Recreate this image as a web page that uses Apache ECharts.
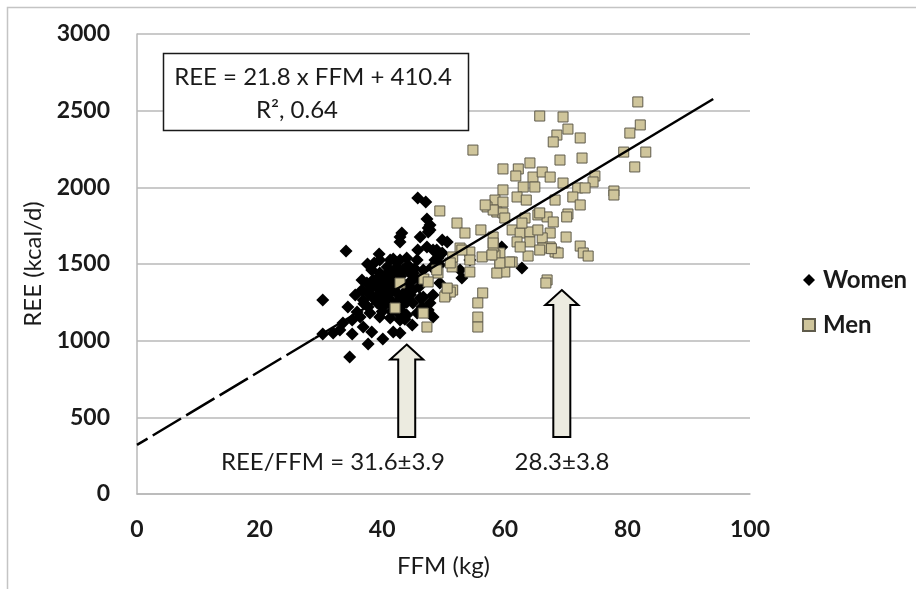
<!DOCTYPE html>
<html>
<head>
<meta charset="utf-8">
<script src="https://cdn.jsdelivr.net/npm/echarts@6/dist/echarts.min.js"></script>
<style>
html,body{margin:0;padding:0;background:#fff;}
#chart{width:916px;height:589px;}
</style>
</head>
<body>
<div id="chart"></div>
<script>
// ---- data ----
const womenFFM = [45.8,47.1,47.3,47.5,43.2,42.9,34.1,39.5,38.7,41.8,44.0,45.8,47.3,48.3,30.3,34.4,32.0,30.3,35.1,37.7,34.7,40.1,33.6,36.4,36.9,38.3,41.8,42.9,44.9,42.9,36.7,37.5,38.5,39.6,40.8,41.8,40.5,39.6,40.9,39.2,40.1,41.8,42.9,44.0,44.5,45.7,46.7,45.7,48.1,49.1,38.0,39.6,41.3,42.4,44.0,45.7,45.0,46.5,36.9,37.7,36.7,38.3,43.4,42.4,41.3,44.2,44.5,46.7,40.0,39.2,40.8,41.8,37.7,35.9,35.1,33.1,35.6,38.5,42.9,40.8,39.6,46.2,47.5,47.8,47.8,49.8,50.6,48.9,49.8,48.6,49.4,52.7,53.0,54.3,62.8,48.6,49.4,48.3,47.8,48.3,46.2,47.5,59.5,41.0,42.0,43.0,42.5,40.5,43.5,41.0,39.0,42.0,37.0,44.0,43.0,45.0,46.0,38.0,40.0,41.5,42.9,37.6,41.5,42.5,43.8,40.2,41.2,44.6,39.4,42.2,43.2,40.6,41.9,44.9,45.3,46.4,38.9,43.7];
const womenREE = [1930,1904,1793,1735,1702,1644,1585,1565,1507,1533,1539,1591,1611,1591,1265,1220,1050,1043,1043,978,893,1011,1115,1154,1089,1057,1057,1050,1102,1135,1330,1376,1396,1441,1415,1396,1350,1311,1285,1246,1220,1246,1285,1330,1383,1415,1461,1526,1481,1539,1180,1154,1148,1187,1167,1180,1246,1220,1265,1311,1396,1461,1461,1481,1526,1494,1441,1285,1396,1350,1330,1330,1220,1187,1135,1070,1298,1278,1526,1481,1526,1676,1709,1754,1722,1657,1644,1591,1572,1526,1494,1461,1409,1526,1474,1461,1376,1298,1246,1154,1278,1200,1611,1300,1350,1420,1250,1270,1300,1440,1400,1440,1240,1250,1200,1330,1350,1330,1190,1190,1676,1500,1370,1310,1360,1370,1460,1300,1260,1400,1230,1240,1220,1390,1470,1400,1360,1140];

const menFFM = [81.7,82.1,80.4,79.4,83.0,81.2,65.7,69.5,70.3,68.5,67.9,72.3,54.8,69.0,72.6,59.7,62.2,64.1,61.8,64.6,66.1,67.4,69.5,74.7,74.4,77.8,77.8,71.9,73.1,71.1,72.3,70.3,70.1,68.2,64.9,63.0,59.7,58.4,57.1,59.7,62.0,63.5,58.7,59.7,63.3,65.4,66.9,67.9,52.2,53.5,56.1,58.1,61.2,62.5,64.1,67.4,70.0,62.0,64.1,66.1,67.4,68.2,68.7,72.3,72.8,73.6,59.2,63.8,58.4,61.2,59.2,60.0,51.4,54.3,66.9,66.7,56.4,55.6,51.5,49.4,52.7,54.3,56.3,51.5,51.1,49.1,60.8,58.7,50.4,55.6,55.6,47.3,46.7,65.7,65.4,66.2,62.5,60.0,58.1,56.8,46.8,42.1,42.9,51.1,50.2,54.3,62.8,65.7,67.6,58.1,59.2,53.0,58.1,57.9,50.6,47.5,48.9];
const menREE = [2557,2407,2354,2230,2230,2133,2465,2459,2380,2341,2296,2322,2243,2178,2191,2120,2120,2159,2074,2067,2100,2067,2028,2074,2035,1976,1950,1996,1996,1937,1885,1826,1807,1917,2002,2002,1983,1917,1872,1904,1937,1917,1839,1833,1800,1820,1807,1774,1767,1702,1722,1676,1722,1702,1709,1702,1676,1644,1644,1670,1611,1578,1572,1617,1572,1552,1572,1552,1559,1513,1487,1448,1481,1448,1396,1376,1311,1246,1330,1846,1604,1578,1546,1546,1507,1441,1513,1441,1298,1154,1089,1089,1180,1833,1722,1604,1611,1800,1852,1885,1402,1213,1376,1317,1285,1526,1767,1591,1600,1611,1507,1591,1637,1559,1343,1383,1461];

const trendFFM = [0, 29, 94];
const trendREE = [320, 1016, 2576];

const xTicks = [0, 20, 40, 60, 80, 100];
const yTicks = [0, 500, 1000, 1500, 2000, 2500, 3000];

const equationLines = ['REE = 21.8 x FFM + 410.4', 'R², 0.64'];
const ratioLabels = ['REE/FFM = 31.6±3.9', '28.3±3.8'];
const arrowFFM = [44, 69.3];
const arrowTipREE = [975, 1330];
const arrowBaseREE = [372, 372];

// ---- chart ----
const zip = (a, b) => a.map((v, i) => [v, b[i]]);
const FONT = 'Lato';
const chart = echarts.init(document.getElementById('chart'), null, {renderer: 'canvas'});

const option = {
  animation: false,
  backgroundColor: '#ffffff',
  grid: {left: 137, right: 166, top: 34, bottom: 95, containLabel: false},
  xAxis: {
    type: 'value', min: xTicks[0], max: xTicks[xTicks.length - 1], interval: 20,
    name: 'FFM (kg)', nameLocation: 'middle', nameGap: 60,
    nameTextStyle: {fontFamily: FONT, fontSize: 24, color: '#1a1a1a'},
    axisLine: {show: true, lineStyle: {color: '#b8b8b8', width: 1.5}},
    axisTick: {show: false},
    splitLine: {show: false},
    axisLabel: {fontFamily: FONT, fontWeight: 'bold', fontSize: 23, color: '#1a1a1a', margin: 24,
      formatter: v => String(v)}
  },
  yAxis: {
    type: 'value', min: yTicks[0], max: yTicks[yTicks.length - 1], interval: 500,
    name: 'REE (kcal/d)', nameLocation: 'middle', nameGap: 80,
    nameTextStyle: {fontFamily: FONT, fontSize: 24, color: '#1a1a1a'},
    axisLine: {show: true, lineStyle: {color: '#b8b8b8', width: 1.5}},
    axisTick: {show: false},
    splitLine: {show: true, lineStyle: {color: '#b8b8b8', width: 1.5}},
    axisLabel: {fontFamily: FONT, fontWeight: 'bold', fontSize: 23, color: '#1a1a1a', margin: 27,
      formatter: v => String(v)}
  },
  legend: {
    orient: 'vertical', left: 797, top: 263, itemGap: 21,
    itemWidth: 12, itemHeight: 12,
    data: ['Women', 'Men'],
    textStyle: {fontFamily: FONT, fontWeight: 'bold', fontSize: 24, color: '#1a1a1a', lineHeight: 22, padding: [0, 0, 0, 3]}
  },
  series: [
    {
      name: 'Women', type: 'scatter', symbol: 'diamond', symbolSize: 13,
      itemStyle: {color: '#000000', opacity: 1},
      data: zip(womenFFM, womenREE), z: 2
    },
    {
      name: 'Men', type: 'scatter', symbol: 'rect', symbolSize: 10,
      itemStyle: {color: '#cfc59b', borderColor: '#5f5b4b', borderWidth: 1, opacity: 1},
      data: zip(menFFM, menREE), z: 3
    },
    {
      name: 'trend-dash', type: 'line', symbol: 'none', silent: true,
      lineStyle: {color: '#000', width: 2.5, type: [33, 6]},
      data: [[trendFFM[1], trendREE[1]], [trendFFM[0], trendREE[0]]], z: 4
    },
    {
      name: 'trend', type: 'line', symbol: 'none', silent: true,
      lineStyle: {color: '#000', width: 2.5},
      data: [[trendFFM[1], trendREE[1]], [trendFFM[2], trendREE[2]]], z: 4
    }
  ]
};
chart.setOption(option);

// ---- annotations placed through the axis scales ----
const px = (x, y) => chart.convertToPixel({gridIndex: 0}, [x, y]);
const graphics = [];
// outer frame
graphics.push({type: 'rect', shape: {x: 7.5, y: 7.5, width: 1000, height: 1000},
  style: {fill: null, stroke: '#c4c4c4', lineWidth: 1.5}, silent: true, z: 0});
// equation box
graphics.push({type: 'rect', shape: {x: 163.5, y: 53.5, width: 305, height: 77},
  style: {fill: '#ffffff', stroke: '#1a1a1a', lineWidth: 1.5}, z: 10});
graphics.push({type: 'text', x: 313, y: 77, style: {text: equationLines[0], font: '24px Lato', fill: '#1a1a1a', textAlign: 'center', textVerticalAlign: 'middle'}, z: 11});
graphics.push({type: 'text', x: 297, y: 110, style: {text: equationLines[1], font: '24px Lato', fill: '#1a1a1a', textAlign: 'center', textVerticalAlign: 'middle'}, z: 11});
// arrows
arrowFFM.forEach((f, i) => {
  const tip = px(f, arrowTipREE[i]);
  const base = px(f, arrowBaseREE[i]);
  const cx = tip[0], sw = 8.5, hw = 16.5, hh = 15;
  graphics.push({type: 'polygon', shape: {points: [
    [cx, tip[1]], [cx + hw, tip[1] + hh], [cx + sw, tip[1] + hh], [cx + sw, base[1]],
    [cx - sw, base[1]], [cx - sw, tip[1] + hh], [cx - hw, tip[1] + hh]
  ]}, style: {fill: '#ecebe0', stroke: '#000', lineWidth: 2, lineJoin: 'miter'}, z: 10});
});
// ratio labels
const lblPos = [[333, 462], [562, 462]];
ratioLabels.forEach((t, i) => {
  graphics.push({type: 'text', x: lblPos[i][0], y: lblPos[i][1], style: {text: t, font: '24px Lato', fill: '#1a1a1a', textAlign: 'center', textVerticalAlign: 'middle'}, z: 11});
});
chart.setOption({graphic: graphics});
</script>
</body>
</html>
